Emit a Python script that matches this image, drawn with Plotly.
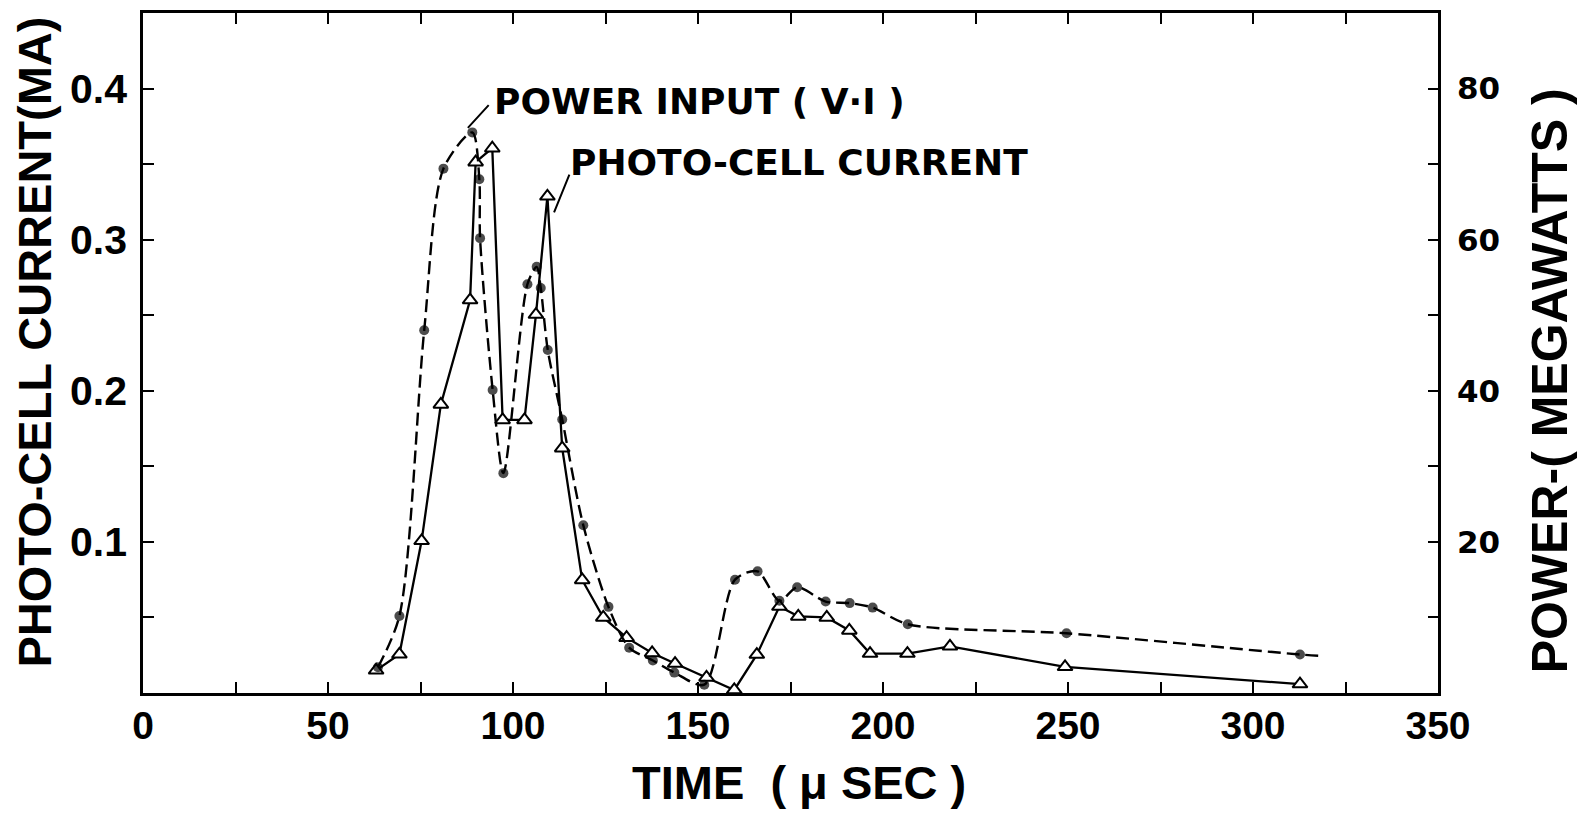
import plotly.graph_objects as go

# ---- data ----
photo_time = [63.0, 69.3, 75.3, 80.5, 88.4, 89.9, 94.4, 97.2, 103.1, 106.2, 109.3, 113.3,
              118.7, 124.4, 130.7, 137.6, 143.8, 152.3, 159.8, 165.9, 172.0, 177.1, 184.8,
              190.9, 196.5, 206.6, 218.1, 249.2, 312.7]
photo_current = [0.015, 0.0256, 0.1007, 0.191, 0.260, 0.3513, 0.3605, 0.1807, 0.1807, 0.2504,
                 0.3287, 0.162, 0.0748, 0.050, 0.0366, 0.0265, 0.0195, 0.0103, 0.002, 0.0254,
                 0.0572, 0.0507, 0.050, 0.0414, 0.0261, 0.0261, 0.0309, 0.0173, 0.0059]

power_time = [63.5, 69.3, 76.0, 81.2, 89.0, 90.9, 91.1, 94.5, 97.4, 103.9, 106.4, 107.5, 109.4,
              113.3, 119.0, 125.8, 131.4, 137.8, 143.6, 151.7, 160.0, 166.1, 172.0, 176.8,
              184.5, 191.0, 197.2, 206.7, 249.6, 312.7, 319.0]
power_mw = [3.4, 10.2, 48.0, 69.4, 74.2, 68.0, 60.2, 40.1, 29.1, 54.1, 56.4, 53.6, 45.4,
            36.2, 22.2, 11.4, 6.0, 4.3, 2.7, 1.1, 15.0, 16.1, 12.2, 14.0,
            12.1, 11.9, 11.3, 9.1, 7.9, 5.1, 4.9]
power_marker = [1] * (len(power_time) - 1) + [0]   # last point: line end only

x_ticks = [0, 25, 50, 75, 100, 125, 150, 175, 200, 225, 250, 275, 300, 325, 350]
x_ticktext = ["0", "", "50", "", "100", "", "150", "", "200", "", "250", "", "300", "", "350"]
y_ticks = [0.05, 0.1, 0.15, 0.2, 0.25, 0.3, 0.35, 0.4]
y_ticktext = ["", "0.1", "", "0.2", "", "0.3", "", "0.4"]
y2_ticks = [10, 20, 30, 40, 50, 60, 70, 80]
y2_ticktext = ["", "20", "", "40", "", "60", "", "80"]

SANS = "Liberation Sans, Arial, sans-serif"
WIDE = "DejaVu Sans, sans-serif"

fig = go.Figure()

fig.add_trace(go.Scatter(
    x=power_time, y=power_mw, yaxis="y2", mode="lines+markers",
    line=dict(color="black", width=2.4, dash="13px,6px", shape="spline", smoothing=0.8),
    marker=dict(symbol="circle", color="black", size=[10 * m for m in power_marker],
                line=dict(width=0)),
    showlegend=False, hoverinfo="skip"))

fig.add_trace(go.Scatter(
    x=photo_time, y=photo_current, mode="lines+markers",
    line=dict(color="black", width=2.3),
    marker=dict(symbol="triangle-up", size=13, color="white",
                line=dict(color="black", width=2)),
    showlegend=False, hoverinfo="skip"))

axis_common = dict(showgrid=False, zeroline=False, showline=True, linecolor="black",
                   linewidth=2.5, ticks="inside", tickcolor="black", tickwidth=2)

fig.update_layout(
    width=1585, height=820,
    margin=dict(l=143, r=147, t=10, b=127),
    paper_bgcolor="white", plot_bgcolor="white",
    xaxis=dict(range=[0, 350], tickvals=x_ticks, ticktext=x_ticktext, mirror="ticks",
               ticklen=11, ticklabelstandoff=-4,
               tickfont=dict(family=SANS, size=39, color="black", weight="bold"),
               **axis_common),
    yaxis=dict(range=[0, 0.45], tickvals=y_ticks, ticktext=y_ticktext, ticklen=11,
               ticklabelstandoff=5,
               tickfont=dict(family=SANS, size=41, color="black", weight="bold"),
               **axis_common),
    yaxis2=dict(range=[0, 90], tickvals=y2_ticks, ticktext=y2_ticktext, overlaying="y",
                side="right", ticklen=10, ticklabelstandoff=10,
                tickfont=dict(family=WIDE, size=31, color="black", weight="bold"),
                **axis_common),
)

# axis titles
fig.add_annotation(text="PHOTO-CELL CURRENT(MA)", xref="paper", yref="paper",
                   x=(35 - 143) / 1295, y=(693 - 341) / 683, xanchor="center",
                   yanchor="middle", textangle=-90, showarrow=False,
                   font=dict(family=SANS, size=47, color="black", weight="bold"))
fig.add_annotation(text="POWER-( MEGAWATTS )", xref="paper", yref="paper",
                   x=(1550 - 143) / 1295, y=(693 - 380) / 683, xanchor="center",
                   yanchor="middle", textangle=-90, showarrow=False,
                   font=dict(family=SANS, size=50, color="black", weight="bold"))
fig.add_annotation(text="TIME  ( μ SEC )", xref="paper", yref="paper",
                   x=(799 - 143) / 1295, y=(693 - 783) / 683, xanchor="center",
                   yanchor="middle", showarrow=False,
                   font=dict(family=SANS, size=47, color="black", weight="bold"))

# curve labels with leader lines
fig.add_annotation(text="POWER INPUT ( V·I )", x=94.3, y=0.3914, xanchor="left",
                   yanchor="middle", showarrow=False,
                   font=dict(family=WIDE, size=36, color="black", weight="bold"))
fig.add_annotation(text="", x=87.8, y=0.374, ax=93.8, ay=0.390, axref="x", ayref="y",
                   showarrow=True, arrowhead=0, arrowwidth=2, arrowcolor="black")
fig.add_annotation(text="PHOTO-CELL CURRENT", x=114.9, y=0.3513, xanchor="left",
                   yanchor="middle", showarrow=False,
                   font=dict(family=WIDE, size=36, color="black", weight="bold"))
fig.add_annotation(text="", x=111.1, y=0.318, ax=115.4, ay=0.344, axref="x", ayref="y",
                   showarrow=True, arrowhead=0, arrowwidth=2, arrowcolor="black")

fig.write_html("out.html")
